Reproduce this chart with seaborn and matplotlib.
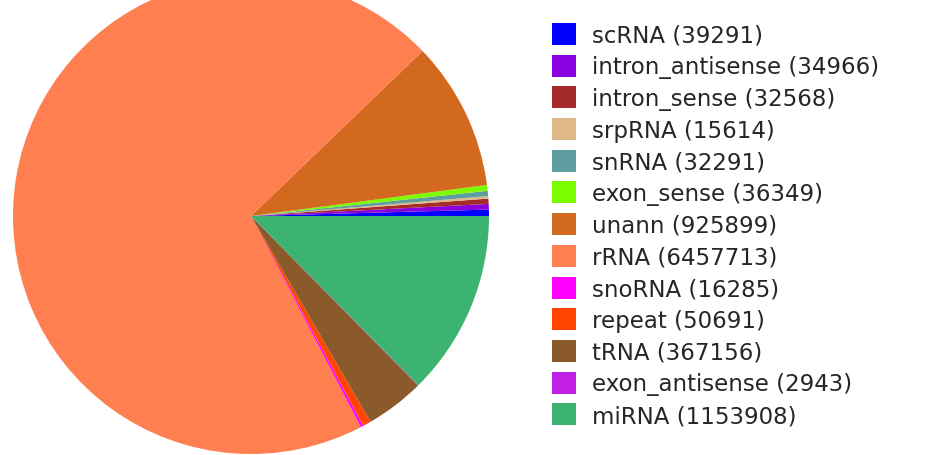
import matplotlib
matplotlib.use("Agg")
import matplotlib.pyplot as plt
import matplotlib.patches as mpatches
import seaborn as sns

# read counts per RNA class (legend order = pie order, counter-clockwise from 3 o'clock)
categories = ['scRNA', 'intron_antisense', 'intron_sense', 'srpRNA', 'snRNA',
              'exon_sense', 'unann', 'rRNA', 'snoRNA', 'repeat', 'tRNA',
              'exon_antisense', 'miRNA']
counts = [39291, 34966, 32568, 15614, 32291, 36349, 925899, 6457713,
          16285, 50691, 367156, 2943, 1153908]
colors = ['#0000FF', '#8A00DE', '#A52A2A', '#DEB887', '#5F9EA0', '#7CFC00',
          '#D2691E', '#FF7F50', '#FF00FF', '#FF4500', '#8B5A2B', '#C21FE6',
          '#3CB371']

sns.set_theme(style='white')
plt.rcParams['font.family'] = ['DejaVu Sans']

W, H = 926, 456
fig = plt.figure(figsize=(W / 100, H / 100), dpi=100)
ax = fig.add_axes([0, 0, 1, 1])

palette = sns.color_palette(colors)
wedges, _ = ax.pie(counts, colors=palette, startangle=0, counterclock=True,
                   wedgeprops=dict(linewidth=0))

# place the pie: centre at (251, 217) px from top-left, radius 238 px
cx, cy, r = 251, 217, 238
ax.set_aspect('auto')
ax.set_xlim(-cx / r, (W - cx) / r)
ax.set_ylim(-(H - cy) / r, cy / r)
ax.axis('off')

handles = [mpatches.Patch(facecolor=c, edgecolor='none') for c in palette]
labels = [f'{n} ({v})' for n, v in zip(categories, counts)]
leg = fig.legend(handles, labels, loc='upper left',
                 bbox_to_anchor=(552 / W, 1 - 24 / H),
                 frameon=False, fontsize=16.5,
                 handlelength=1.05, handleheight=1.1, handletextpad=0.7,
                 labelspacing=0.345, borderaxespad=0, borderpad=0)
for t in leg.get_texts():
    t.set_color('#262626')

fig.savefig('out.png', dpi=100)
